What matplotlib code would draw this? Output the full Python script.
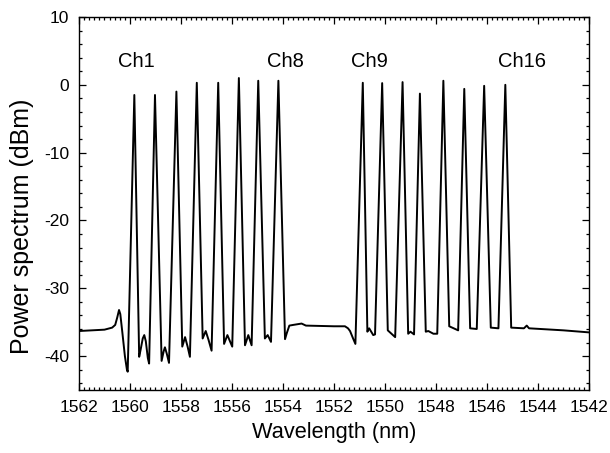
import numpy as np
import matplotlib
matplotlib.use("Agg")
import matplotlib.pyplot as plt
from matplotlib.ticker import MultipleLocator

plt.rcParams['font.family'] = ['Liberation Sans', 'DejaVu Sans']
plt.rcParams['axes.unicode_minus'] = False

# Channel peak positions (nm) and peak powers (dBm)
ch_wl = [1559.83, 1559.02, 1558.18, 1557.38, 1556.54, 1555.73, 1554.97, 1554.18,
         1550.87, 1550.11, 1549.31, 1548.63, 1547.71, 1546.89, 1546.11, 1545.28]
ch_pw = [-1.5, -1.5, -1.0, 0.3, 0.3, 1.0, 0.6, 0.6,
         0.3, 0.25, 0.4, -1.3, 0.6, -0.6, -0.15, 0.0]

# Background / inter-channel trace points (nm, dBm)
bg_wl = [1562.0, 1561.0, 1560.7, 1560.58, 1560.5, 1560.43, 1560.38, 1560.3, 1560.2, 1560.12, 1560.09,
         1559.64, 1559.58, 1559.5, 1559.44, 1559.38, 1559.3, 1559.25,
         1558.76, 1558.68, 1558.63, 1558.56, 1558.47,
         1557.95, 1557.84, 1557.74, 1557.65,
         1557.15, 1557.03, 1556.92, 1556.8,
         1556.31, 1556.18, 1556.08, 1555.99,
         1555.49, 1555.36, 1555.23,
         1554.71, 1554.6, 1554.47,
         1553.92, 1553.85, 1553.75, 1553.6, 1553.27, 1553.1, 1552.0, 1551.57, 1551.45,
         1551.37, 1551.25, 1551.16,
         1550.69, 1550.62, 1550.46, 1550.39,
         1549.89, 1549.6,
         1549.09, 1549.0, 1548.86,
         1548.4, 1548.3, 1548.1, 1547.95,
         1547.48, 1547.13,
         1546.66, 1546.4,
         1545.85, 1545.55,
         1545.05, 1544.55, 1544.44, 1544.35, 1543.0, 1542.0]
bg_pw = [-36.3, -36.1, -35.8, -35.4, -34.3, -33.2, -33.8, -36.5, -40.0, -42.0, -42.3,
         -40.1, -39.0, -37.4, -36.9, -37.8, -40.3, -41.1,
         -40.7, -39.3, -38.7, -39.6, -41.0,
         -38.6, -37.2, -38.6, -40.1,
         -37.4, -36.3, -37.6, -39.2,
         -38.2, -36.9, -37.8, -38.6,
         -38.4, -36.9, -38.4,
         -37.4, -36.9, -37.9,
         -37.5, -36.6, -35.5, -35.4, -35.2, -35.5, -35.6, -35.6, -35.9,
         -36.3, -37.4, -38.2,
         -36.4, -35.9, -36.9, -36.8,
         -36.2, -37.2,
         -36.7, -36.4, -36.8,
         -36.4, -36.3, -36.7, -36.7,
         -35.6, -36.2,
         -35.9, -36.0,
         -35.8, -35.9,
         -35.8, -35.9, -35.5, -35.9, -36.2, -36.5]

labels = ["Ch1", "Ch8", "Ch9", "Ch16"]
label_wl = [1559.76, 1553.92, 1550.59, 1544.61]
label_y = 3.4

wl = np.array(bg_wl + ch_wl)
pw = np.array(bg_pw + ch_pw)
order = np.argsort(wl)
wl, pw = wl[order], pw[order]

fig = plt.figure(figsize=(6.10, 4.53), dpi=100)
ax = fig.add_axes([0.1295, 0.139, 0.836, 0.8235])
ax.plot(wl, pw, color='black', lw=1.4, solid_joinstyle='round')

ax.set_xlim(1562, 1542)
ax.set_ylim(-45, 10)
ax.xaxis.set_major_locator(MultipleLocator(2))
ax.xaxis.set_minor_locator(MultipleLocator(0.2))
ax.yaxis.set_major_locator(MultipleLocator(10))
ax.yaxis.set_minor_locator(MultipleLocator(2))
ax.tick_params(which='both', direction='in', top=True, right=True, labelsize=12.5, width=0.9)
ax.tick_params(which='major', length=5)
ax.tick_params(which='minor', length=2.5)
ax.tick_params(axis='x', which='major', pad=7)
ax.tick_params(axis='y', which='major', pad=7)
for s in ax.spines.values():
    s.set_linewidth(1.0)

ax.set_xlabel("Wavelength (nm)", fontsize=15.7, labelpad=5)
ax.set_ylabel("Power spectrum (dBm)", fontsize=18.0)
ax.yaxis.set_label_coords(-0.088, 0.44)

for t, x in zip(labels, label_wl):
    ax.text(x, label_y, t, fontsize=14.5, ha='center', va='center')

fig.savefig("out.png", dpi=100)
